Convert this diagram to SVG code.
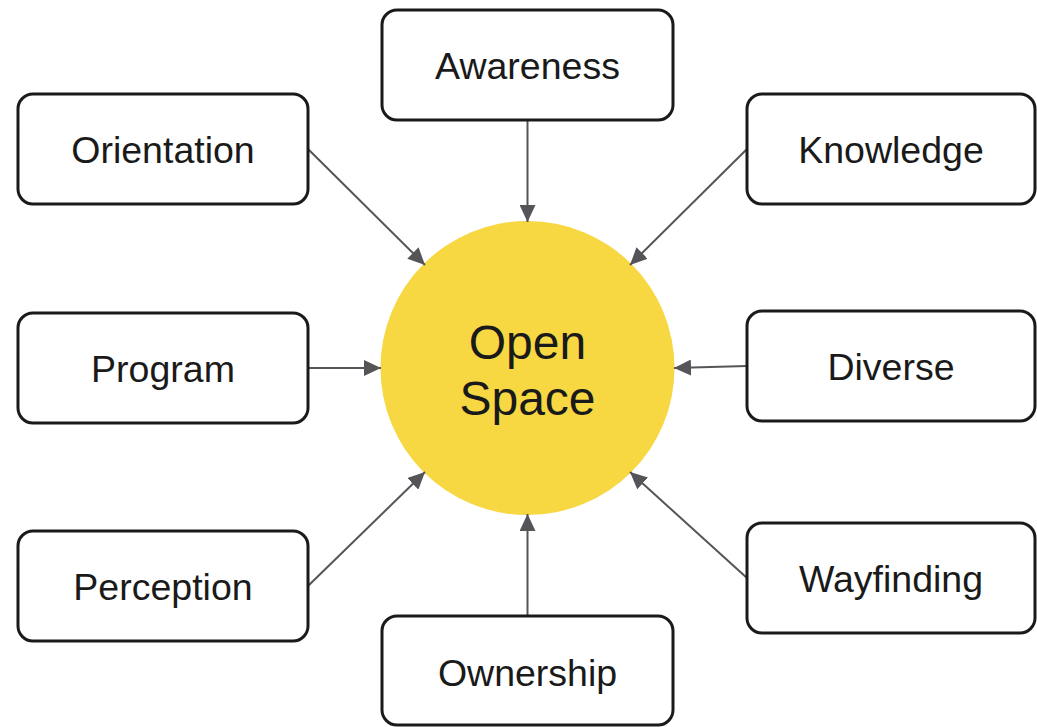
<svg xmlns="http://www.w3.org/2000/svg" width="1037" height="727" viewBox="0 0 1037 727">
  <style>
    .box { fill: #ffffff; stroke: #1a1a1a; stroke-width: 3; }
    .label { font-family: "Liberation Sans", Arial, sans-serif; font-size: 37.5px; fill: #1a1a1a; text-anchor: middle; dominant-baseline: central; }
    .hub { fill: #F7D842; }
    .hub-label { font-family: "Liberation Sans", Arial, sans-serif; font-size: 48px; fill: #1a1a1a; text-anchor: middle; }
    .link { stroke: #555559; stroke-width: 2; fill: none; marker-end: url(#head); }
  </style>
  <defs>
    <marker id="head" markerUnits="userSpaceOnUse" markerWidth="18" markerHeight="16" refX="17" refY="8" orient="auto">
      <path d="M0,0 L17,8 L0,16 Z" fill="#555559"/>
    </marker>
  </defs>
  <rect width="1037" height="727" fill="#ffffff"/>

  <!-- central hub -->
  <g id="open-space">
    <circle class="hub" cx="527.5" cy="368" r="147"/>
    <text class="hub-label" x="527.5" y="359">Open</text>
    <text class="hub-label" x="527.5" y="415">Space</text>
  </g>

  <!-- connectors pointing into the hub -->
  <g id="connectors">
    <line class="link" x1="527.5" y1="120" x2="527.5" y2="222"/>
    <line class="link" x1="308" y1="149" x2="425" y2="265"/>
    <line class="link" x1="747" y1="149" x2="630" y2="265"/>
    <line class="link" x1="308" y1="368" x2="381" y2="368"/>
    <line class="link" x1="747" y1="366" x2="674" y2="368"/>
    <line class="link" x1="308" y1="586" x2="425" y2="472"/>
    <line class="link" x1="747" y1="578" x2="630" y2="472"/>
    <line class="link" x1="527.5" y1="616" x2="527.5" y2="514"/>
  </g>

  <g id="awareness">
    <rect class="box" x="382" y="10" width="291" height="110" rx="15"/>
    <text class="label" x="527.5" y="66">Awareness</text>
  </g>
  <g id="orientation">
    <rect class="box" x="18" y="94" width="290" height="110" rx="15"/>
    <text class="label" x="163" y="150">Orientation</text>
  </g>
  <g id="knowledge">
    <rect class="box" x="747" y="94" width="288" height="110" rx="15"/>
    <text class="label" x="891" y="150">Knowledge</text>
  </g>
  <g id="program">
    <rect class="box" x="18" y="313" width="290" height="110" rx="15"/>
    <text class="label" x="163" y="369">Program</text>
  </g>
  <g id="diverse">
    <rect class="box" x="747" y="311" width="288" height="110" rx="15"/>
    <text class="label" x="891" y="367">Diverse</text>
  </g>
  <g id="perception">
    <rect class="box" x="18" y="531" width="290" height="110" rx="15"/>
    <text class="label" x="163" y="587">Perception</text>
  </g>
  <g id="wayfinding">
    <rect class="box" x="747" y="523" width="288" height="110" rx="15"/>
    <text class="label" x="891" y="579">Wayfinding</text>
  </g>
  <g id="ownership">
    <rect class="box" x="382" y="616" width="291" height="109" rx="15"/>
    <text class="label" x="527.5" y="673">Ownership</text>
  </g>
</svg>
